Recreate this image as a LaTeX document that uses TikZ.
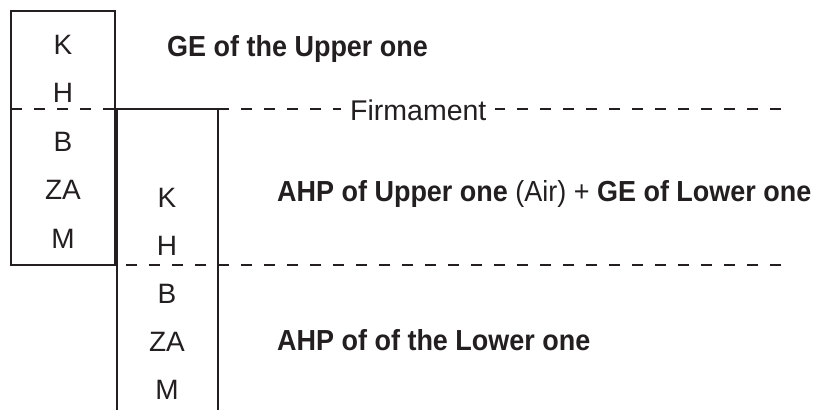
\documentclass[tikz,border=0pt]{standalone}
\usepackage{fontspec}
\setmainfont{Liberation Sans}
\newfontfamily\notefont{Liberation Sans}[FakeStretch=0.93]
\usepackage{tikz}
\definecolor{ink}{HTML}{231F20}

\begin{document}
\begin{tikzpicture}[x=1pt, y=-1pt, color=ink,
  box/.style={draw, line width=2.6pt},
  divide/.style={line width=2.3pt, dash pattern=on 11pt off 12pt},
  letter/.style={anchor=base, inner sep=0pt, font=\fontsize{28}{33}\selectfont},
  note/.style={anchor=base west, inner sep=0pt, font=\notefont\fontsize{29}{34}\selectfont}
]
\useasboundingbox (0,0) rectangle (817,410);

% the two columns
\draw[box] (11,11) rectangle (115,265);
\draw[box] (117,410) -- (117,109) -- (218,109) -- (218,410);

\draw[divide] (11,109) -- (787,109);
\draw[divide] (11,265) -- (785,265);

\node[letter] (K1)  at (63,54)    {K};
\node[letter] (H1)  at (63,102.5) {H};
\node[letter] (B1)  at (63,151)   {B};
\node[letter] (ZA1) at (63,199.5) {ZA};
\node[letter] (M1)  at (63,248)   {M};

\node[letter] (K2)  at (167,207) {K};
\node[letter] (H2)  at (167,255) {H};
\node[letter] (B2)  at (167,303) {B};
\node[letter] (ZA2) at (167,351) {ZA};
\node[letter] (M2)  at (167,399) {M};

\node[note, font=\fontsize{28.5}{33}\selectfont, fill=white, inner xsep=9pt] (firm) at (341,120) {Firmament};

\node[note] (upper) at (167,56)  {\textbf{GE of the Upper one}};
\node[note] (air)   at (277,201) {\textbf{AHP of Upper one} (Air) + \textbf{GE of Lower one}};
\node[note] (lower) at (277,350) {\textbf{AHP of of the Lower one}};

\end{tikzpicture}
\end{document}
